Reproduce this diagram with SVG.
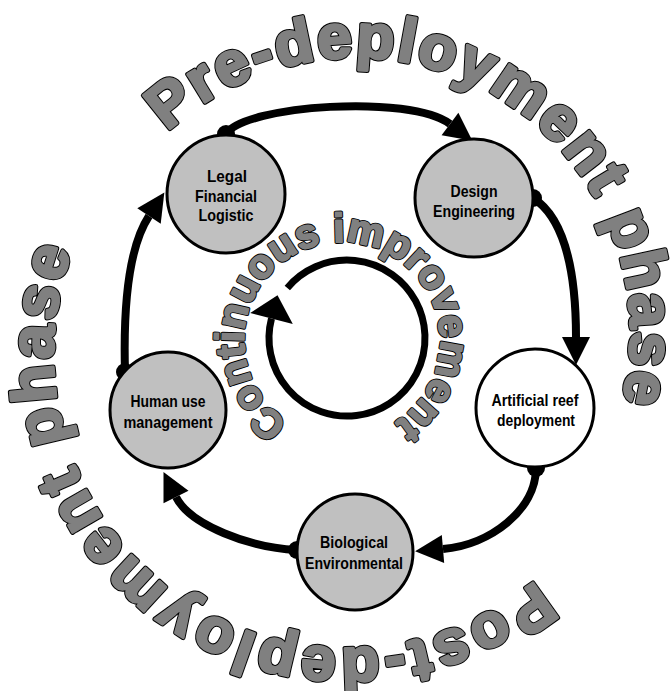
<svg xmlns="http://www.w3.org/2000/svg" width="670" height="691" viewBox="0 0 670 691">
  <style>
    .node circle { stroke: #000; stroke-width: 3; }
    .gray { fill: #c0c0c0; }
    .white { fill: #fff; }
    .label { font-family: "Liberation Sans", Arial, sans-serif; font-weight: bold; font-size: 17px; text-anchor: middle; fill: #000; }
    .conn { fill: none; stroke: #000; stroke-width: 8; marker-start: url(#dot); marker-end: url(#arrow); }
    .ring { fill: none; stroke: #000; stroke-width: 7; marker-end: url(#arrowBig); }
    .heading { font-family: "Liberation Sans", Arial, sans-serif; font-weight: bold; }
    /* heavy outlined lettering: black halo underneath, grey body on top */
    .outline { fill: #000; stroke: #000; stroke-width: 5; stroke-linejoin: round; }
    .body { fill: #808080; stroke: #808080; stroke-width: 3; stroke-linejoin: round; }
  </style>
  <defs>
    <!-- circular baselines for the curved headings (clockwise, letters facing outward) -->
    <path id="preArc" d="M167.45,131.88 A275,275 0 1,1 542.55,534.12 A275,275 0 1,1 167.45,131.88"/>
    <path id="postArc" d="M535.7,579.9 A294,294 0 1,1 164.3,124.1 A294,294 0 1,1 535.7,579.9"/>
    <path id="loopArc" d="M288.6,422.2 A98,98 0 1,1 395.4,257.8 A98,98 0 1,1 288.6,422.2"/>
    <text id="preText" class="heading" font-size="62" letter-spacing="2.3"><textPath href="#preArc">Pre-deployment phase</textPath></text>
    <text id="postText" class="heading" font-size="62" letter-spacing="3.6"><textPath href="#postArc">Post-deployment phase</textPath></text>
    <text id="loopText" class="heading" font-size="41" letter-spacing="0.3"><textPath href="#loopArc">Continuous improvement</textPath></text>
    <marker id="arrow" markerUnits="userSpaceOnUse" markerWidth="30" markerHeight="30" refX="0" refY="0" orient="auto" style="overflow:visible">
      <path d="M0,-14 L28,0 L0,14 Z" fill="#000"/>
    </marker>
    <marker id="arrowBig" markerUnits="userSpaceOnUse" markerWidth="30" markerHeight="46" refX="0" refY="0" orient="auto" style="overflow:visible">
      <path d="M0,-22 L24,0 L0,22 Z" fill="#000"/>
    </marker>
    <marker id="dot" markerUnits="userSpaceOnUse" markerWidth="20" markerHeight="20" refX="0" refY="0" style="overflow:visible">
      <circle r="9" fill="#000"/>
    </marker>
  </defs>

  <!-- phase headings -->
  <g id="phase-labels">
    <use href="#preText" class="outline"/>
    <use href="#preText" class="body"/>
    <use href="#postText" class="outline"/>
    <use href="#postText" class="body"/>
  </g>

  <!-- central improvement loop -->
  <g id="improvement-loop">
    <path class="ring" d="M287.3,287.9 A78,78 0 1,1 271.5,318.5"/>
    <use href="#loopText" class="outline" style="stroke-width:3.6"/>
    <use href="#loopText" class="body" style="stroke-width:1.8"/>
  </g>

  <!-- cycle connectors -->
  <g id="connectors">
    <path class="conn" d="M226,134 C245,105 410,94 450,124"/>
    <path class="conn" d="M533,198 C560,215 576,260 576,337"/>
    <path class="conn" d="M536,468 C536,510 490,545 443,549"/>
    <path class="conn" d="M297,550 C250,548 190,525 176,497"/>
    <path class="conn" d="M125,372 C123,300 130,245 149,216"/>
  </g>

  <!-- process stages -->
  <g id="legal" class="node">
    <circle class="gray" cx="226" cy="194" r="59"/>
    <text class="label" x="227" y="182" textLength="40" lengthAdjust="spacingAndGlyphs">Legal</text>
    <text class="label" x="226" y="202" textLength="62" lengthAdjust="spacingAndGlyphs">Financial</text>
    <text class="label" x="226" y="221" textLength="55" lengthAdjust="spacingAndGlyphs">Logistic</text>
  </g>
  <g id="design" class="node">
    <circle class="gray" cx="474" cy="198" r="59"/>
    <text class="label" x="474" y="197" textLength="47" lengthAdjust="spacingAndGlyphs">Design</text>
    <text class="label" x="474" y="217" textLength="82" lengthAdjust="spacingAndGlyphs">Engineering</text>
  </g>
  <g id="artificial-reef" class="node">
    <circle class="white" cx="535" cy="408" r="59"/>
    <text class="label" x="535" y="406" textLength="87" lengthAdjust="spacingAndGlyphs">Artificial reef</text>
    <text class="label" x="536" y="426" textLength="78" lengthAdjust="spacingAndGlyphs">deployment</text>
  </g>
  <g id="biological" class="node">
    <circle class="gray" cx="355" cy="552" r="58"/>
    <text class="label" x="354" y="548" textLength="68" lengthAdjust="spacingAndGlyphs">Biological</text>
    <text class="label" x="354" y="569" textLength="98" lengthAdjust="spacingAndGlyphs">Environmental</text>
  </g>
  <g id="human-use" class="node">
    <circle class="gray" cx="168" cy="410" r="58"/>
    <text class="label" x="168" y="407" textLength="75" lengthAdjust="spacingAndGlyphs">Human use</text>
    <text class="label" x="168" y="428" textLength="89" lengthAdjust="spacingAndGlyphs">management</text>
  </g>
</svg>
